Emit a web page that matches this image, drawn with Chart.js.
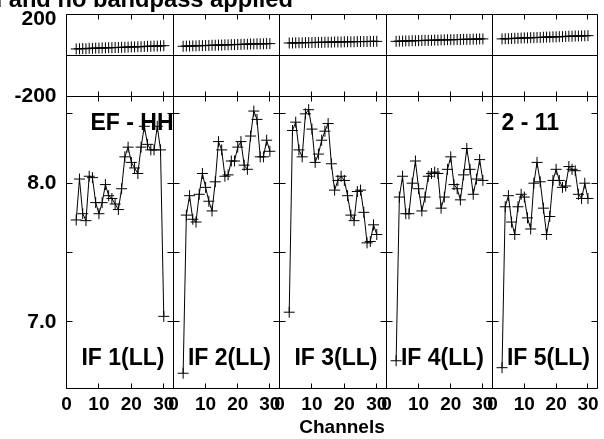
<!DOCTYPE html>
<html>
<head>
<meta charset="utf-8">
<script src="https://cdn.jsdelivr.net/npm/chart.js@4"></script>
<style>
  html, body { margin: 0; padding: 0; background: #fff; }
  #wrap { position: relative; width: 604px; height: 439px; overflow: hidden; }
  #wrap canvas { position: absolute; left: 0; top: 0; }
</style>
</head>
<body>
<div id="wrap"></div>
<script>
// channels plotted in every IF
const channels = [3, 4, 5, 6, 7, 8, 9, 10, 11, 12, 13, 14, 15, 16, 17, 18, 19, 20, 21, 22, 23, 24, 25, 26, 27, 28, 29, 30];

// phase (degrees), one list per IF
const phase1 = [32, 33, 34, 33, 35, 35, 36, 36, 37, 37, 38, 38, 39, 39, 40, 40, 41, 42, 42, 43, 43, 44, 45, 45, 46, 46, 47, 48];
const phase2 = [45, 46, 46, 47, 47, 48, 48, 49, 49, 50, 50, 51, 51, 52, 52, 53, 53, 54, 54, 55, 55, 56, 56, 57, 57, 57, 58, 58];
const phase3 = [61, 61, 62, 62, 62, 63, 63, 63, 64, 64, 64, 65, 65, 65, 66, 66, 66, 67, 67, 67, 67, 68, 68, 68, 68, 69, 69, 69];
const phase4 = [69, 70, 70, 71, 71, 72, 72, 73, 73, 74, 74, 74, 75, 75, 76, 76, 77, 77, 77, 78, 78, 79, 79, 79, 80, 80, 81, 81];
const phase5 = [81, 82, 82, 83, 84, 84, 85, 86, 86, 87, 87, 88, 88, 89, 90, 90, 91, 91, 92, 92, 93, 94, 94, 95, 95, 96, 96, 97];

// amplitude, one list per IF
const amp1 = [7.735, 8.03, 7.78, 7.73, 8.05, 8.04, 7.86, 7.78, 7.86, 7.99, 7.91, 7.89, 7.85, 7.81, 7.96, 8.19, 8.26, 8.15, 8.11, 8.07, 8.26, 8.41, 8.28, 8.24, 8.24, 8.41, 8.24, 7.04];
const amp2 = [6.63, 7.77, 7.91, 7.74, 7.72, 7.92, 8.07, 7.97, 7.87, 7.80, 8.01, 8.30, 8.24, 8.05, 8.06, 8.16, 8.16, 8.26, 8.30, 8.13, 8.10, 8.34, 8.52, 8.46, 8.19, 8.19, 8.31, 8.23];
const amp3 = [7.07, 8.38, 8.44, 8.24, 8.19, 8.50, 8.53, 8.39, 8.15, 8.21, 8.31, 8.375, 8.43, 8.14, 7.95, 8.02, 8.05, 8.02, 7.91, 7.77, 7.73, 7.94, 7.95, 7.79, 7.57, 7.58, 7.70, 7.63];
const amp4 = [6.72, 7.90, 8.05, 7.78, 7.78, 8.00, 8.16, 7.96, 7.80, 7.90, 8.05, 8.07, 8.08, 8.07, 7.82, 7.90, 8.10, 8.19, 7.99, 7.96, 7.88, 8.06, 8.25, 8.10, 7.92, 8.03, 8.17, 8.02];
const amp5 = [6.67, 7.83, 7.91, 7.72, 7.63, 7.83, 7.92, 7.90, 7.75, 7.67, 8.00, 8.15, 8.01, 7.82, 7.63, 7.76, 8.02, 8.10, 8.02, 7.97, 7.98, 8.12, 8.10, 8.09, 7.92, 7.89, 8.00, 7.89];

const ifNames = ["IF 1(LL)", "IF 2(LL)", "IF 3(LL)", "IF 4(LL)", "IF 5(LL)"];
const phaseTicks = [-200, 200];

const phaseSets = [phase1, phase2, phase3, phase4, phase5];
const ampSets = [amp1, amp2, amp3, amp4, amp5];

const W = 604, H = 439, TOP = 14.5, BOTTOM = 388.5;
const edges = [66.5, 173.5, 279.5, 386.5, 492.5, 598.5];
const FONT = '"Liberation Sans", Arial, Helvetica, sans-serif';

const pts = vals => vals.map((v, i) => ({ x: channels[i], y: v }));
const crisp = v => Math.floor(v) + 0.5;

// keep tick labels from pushing the plot area around
const noOverflow = s => { s.paddingTop = 0; s.paddingBottom = 0; s.paddingLeft = 0; s.paddingRight = 0; };

// boxes, zero line and inward ticks
const frame = {
  id: "frame",
  beforeDatasetsDraw(chart) {
    const { ctx, chartArea: a, scales } = chart;
    const { x, yp, ya } = scales;
    const l = crisp(a.left), r = crisp(a.right);
    ctx.save();
    ctx.strokeStyle = "#000";
    ctx.lineWidth = 1;
    ctx.beginPath();
    [yp, ya].forEach(s => {
      const t = crisp(s.top), b = crisp(s.bottom);
      ctx.rect(l, t, r - l, b - t);
      x.ticks.forEach(tk => {
        const px = crisp(x.getPixelForValue(tk.value));
        ctx.moveTo(px, t); ctx.lineTo(px, t + 5);
        ctx.moveTo(px, b); ctx.lineTo(px, b - 5);
      });
    });
    const z = crisp(yp.getPixelForValue(0));
    ctx.moveTo(l, z); ctx.lineTo(r, z);
    ya.ticks.forEach(tk => {
      const py = crisp(ya.getPixelForValue(tk.value));
      ctx.moveTo(l, py); ctx.lineTo(l + 6, py);
      ctx.moveTo(r, py); ctx.lineTo(r - 6, py);
    });
    ctx.stroke();
    ctx.restore();
  }
};

function notes(items) {
  return {
    id: "notes",
    afterDraw(chart) {
      const ctx = chart.ctx;
      ctx.save();
      ctx.fillStyle = "#000";
      ctx.textBaseline = "alphabetic";
      items.forEach(n => {
        ctx.font = "bold " + n.size + "px " + FONT;
        ctx.textAlign = n.align || "left";
        ctx.fillText(n.text, n.x, n.y);
      });
      ctx.restore();
    }
  };
}

const wrap = document.getElementById("wrap");

for (let p = 0; p < 5; p++) {
  const first = p === 0;
  const canvas = document.createElement("canvas");
  canvas.width = W;
  canvas.height = H;
  wrap.appendChild(canvas);

  const items = [{ text: ifNames[p], x: (edges[p] + edges[p + 1]) / 2 + 3, y: 365, size: 23, align: "center" }];
  if (first) {
    items.push({ text: "applied and no bandpass applied", x: 293, y: 6.5, size: 23.7, align: "right" });
    items.push({ text: "EF - HH", x: 90.5, y: 130, size: 23 });
  }
  if (p === 2) items.push({ text: "Channels", x: 342, y: 433, size: 19, align: "center" });
  if (p === 4) items.push({ text: "2 - 11", x: 501.5, y: 130, size: 23 });

  const style = {
    borderColor: "#000",
    borderWidth: 1,
    pointStyle: "cross",
    pointRadius: 5.5,
    pointBorderColor: "#000",
    pointBorderWidth: 1,
    tension: 0,
    fill: false
  };

  new Chart(canvas, {
    type: "line",
    data: {
      datasets: [
        Object.assign({ data: pts(phaseSets[p]), yAxisID: "yp" }, style),
        Object.assign({ data: pts(ampSets[p]), yAxisID: "ya" }, style)
      ]
    },
    options: {
      responsive: false,
      animation: false,
      events: [],
      layout: { padding: { left: first ? 0 : edges[p], right: W - edges[p + 1], top: TOP, bottom: 0 } },
      plugins: { legend: { display: false }, tooltip: { enabled: false } },
      scales: {
        x: {
          type: "linear", min: 0, max: 33,
          grid: { display: false, drawTicks: false },
          border: { display: false },
          ticks: {
            stepSize: 10, includeBounds: false, autoSkip: false, maxRotation: 0,
            color: "#000", padding: 5,
            font: { family: FONT, size: 19, weight: "bold" }
          },
          afterFit: s => { s.height = H - BOTTOM; noOverflow(s); }
        },
        // left boxes are laid out in reverse order, so the amplitude axis comes first
        ya: {
          type: "linear", position: "left", stack: "v", stackWeight: 292,
          min: 6.52, max: 8.625,
          grid: { display: false, drawTicks: false },
          border: { display: false },
          ticks: {
            display: first, color: "#000", padding: 10,
            stepSize: 0.5, includeBounds: false,
            font: { family: FONT, size: 21, weight: "bold" },
            callback: v => (Math.abs(v - Math.round(v)) < 1e-6 ? v.toFixed(1) : "")
          },
          afterFit: s => { s.width = first ? edges[0] : 0; noOverflow(s); }
        },
        yp: {
          type: "linear", position: "left", stack: "v", stackWeight: 82,
          min: -200, max: 200,
          grid: { display: false, drawTicks: false },
          border: { display: false },
          afterBuildTicks: s => { s.ticks = phaseTicks.map(v => ({ value: v })); },
          ticks: {
            display: first, color: "#000", padding: 10,
            font: { family: FONT, size: 21, weight: "bold", lineHeight: "10px" },
            callback: v => (v > 0 ? ["", String(v)] : String(v))
          },
          afterFit: s => { s.width = first ? edges[0] : 0; noOverflow(s); }
        }
      }
    },
    plugins: [frame, notes(items)]
  });
}
</script>
</body>
</html>
